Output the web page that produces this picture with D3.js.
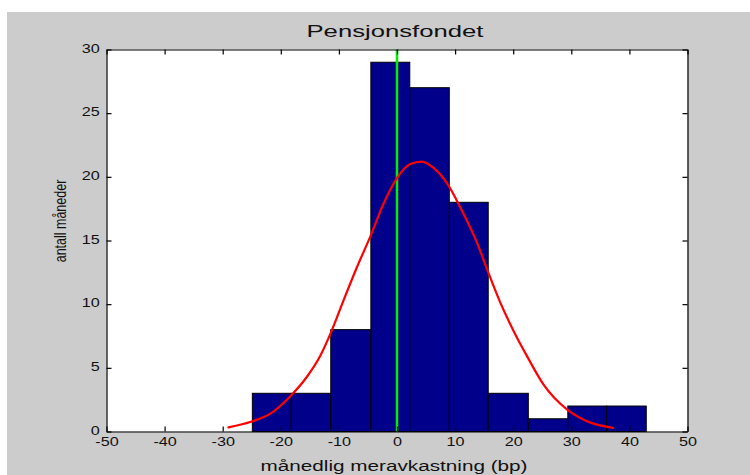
<!DOCTYPE html>
<html>
<head>
<meta charset="utf-8">
<script src="https://cdn.jsdelivr.net/npm/d3@7"></script>
<style>
  body { margin: 0; background: #fff; }
  text { font-family: "Liberation Sans", Arial, sans-serif; fill: #111; }
</style>
</head>
<body>
<svg id="viz" width="750" height="475"></svg>
<script>
// histogram bins (edges) and counts
var binEdges = [-24.9, -18.2, -11.4, -4.5, 2.2, 9.0, 15.7, 22.6, 29.4, 36.1, 42.9];
var counts = [3, 3, 8, 29, 27, 18, 3, 1, 2, 2];

// fitted curve, points
var curveX = [-29.0, -25.0, -21.8, -18.4, -15.5, -13.2, -11.2, -9.2, -6.9, -4.6, -2.3, 0.0, 2.3, 4.3,
              6.3, 8.6, 10.9, 13.8, 15.7, 17.8, 20.0, 22.4, 25.2, 29.2, 32.7, 37.2];
var curveY = [0.32, 0.78, 1.4, 2.75, 4.3, 5.95, 7.96, 10.3, 12.9, 15.3, 17.9, 19.9, 21.0, 21.2,
              20.7, 19.5, 17.6, 14.8, 12.5, 10.1, 7.96, 5.9, 3.7, 1.75, 0.8, 0.28];

var zeroLine = 0;
var xTicks = [-50, -40, -30, -20, -10, 0, 10, 20, 30, 40, 50];
var yTicks = [0, 5, 10, 15, 20, 25, 30];

var svg = d3.select("#viz");

svg.append("rect")
  .attr("x", 7).attr("y", 12)
  .attr("width", 743).attr("height", 463)
  .attr("fill", "#cccccc");

var plotLeft = 106.5, plotRight = 687.5, plotTop = 49.5, plotBottom = 431.5;

var x = d3.scaleLinear().domain([-50, 50]).range([plotLeft, plotRight]);
var y = d3.scaleLinear().domain([0, 30]).range([plotBottom, plotTop]);

svg.append("rect")
  .attr("x", plotLeft).attr("y", plotTop)
  .attr("width", plotRight - plotLeft).attr("height", plotBottom - plotTop)
  .attr("fill", "#fff");

var bins = counts.map(function(c, i) {
  return { x0: binEdges[i], x1: binEdges[i + 1], count: c };
});

svg.append("g")
  .selectAll("rect")
  .data(bins)
  .enter()
  .append("rect")
  .attr("x", function(d) { return x(d.x0); })
  .attr("y", function(d) { return y(d.count); })
  .attr("width", function(d) { return x(d.x1) - x(d.x0); })
  .attr("height", function(d) { return y(0) - y(d.count); })
  .attr("fill", "#00008b")
  .attr("stroke", "#000")
  .attr("stroke-width", 1);

svg.append("line")
  .attr("x1", x(zeroLine)).attr("x2", x(zeroLine))
  .attr("y1", plotTop).attr("y2", plotBottom)
  .attr("stroke", "#00ee00")
  .attr("stroke-width", 2.5);

var curve = curveX.map(function(v, i) { return [v, curveY[i]]; });
var line = d3.line()
  .x(function(d) { return x(d[0]); })
  .y(function(d) { return y(d[1]); })
  .curve(d3.curveMonotoneX);

svg.append("path")
  .datum(curve)
  .attr("d", line)
  .attr("fill", "none")
  .attr("stroke", "#ff0000")
  .attr("stroke-width", 2.2)
  .attr("stroke-linecap", "round");

// plain hyphen minus, like the original
var fmt = function(d) { return String(d); };

// axes, ticks pointing inward on all four sides
var xAxis = svg.append("g")
  .attr("transform", "translate(0," + plotBottom + ")")
  .call(d3.axisBottom(x).tickValues(xTicks).tickFormat(fmt).tickSize(-5).tickSizeOuter(0).tickPadding(5.5));
var yAxis = svg.append("g")
  .attr("transform", "translate(" + plotLeft + ",0)")
  .call(d3.axisLeft(y).tickValues(yTicks).tickFormat(fmt).tickSize(-5).tickSizeOuter(0).tickPadding(5));
svg.append("g")
  .attr("transform", "translate(0," + plotTop + ")")
  .call(d3.axisTop(x).tickValues(xTicks).tickSize(-5).tickSizeOuter(0).tickFormat(""));
svg.append("g")
  .attr("transform", "translate(" + plotRight + ",0)")
  .call(d3.axisRight(y).tickValues(yTicks).tickSize(-5).tickSizeOuter(0).tickFormat(""));

svg.selectAll(".domain").attr("stroke", "#000").attr("stroke-width", 1.2);
svg.selectAll(".tick line").attr("stroke", "#000").attr("stroke-width", 1.2);

xAxis.selectAll("text")
  .attr("font-size", 12)
  .attr("fill", "#111")
  .attr("transform", "scale(1.35,1)");
yAxis.selectAll("text")
  .attr("font-size", 12)
  .attr("fill", "#111")
  .attr("dy", "0.22em")
  .attr("transform", "scale(1.35,1)");

svg.append("text")
  .attr("x", (plotLeft + plotRight) / 2 - 2)
  .attr("y", 36.5)
  .attr("text-anchor", "middle")
  .attr("font-size", 17)
  .attr("textLength", 177)
  .attr("lengthAdjust", "spacingAndGlyphs")
  .text("Pensjonsfondet");

svg.append("text")
  .attr("x", 394)
  .attr("y", 470.5)
  .attr("text-anchor", "middle")
  .attr("font-size", 14)
  .attr("textLength", 267)
  .attr("lengthAdjust", "spacingAndGlyphs")
  .text("månedlig meravkastning (bp)");

svg.append("text")
  .attr("transform", "translate(66,221) scale(1.35,1) rotate(-90)")
  .attr("text-anchor", "middle")
  .attr("font-size", 12.5)
  .text("antall måneder");
</script>
</body>
</html>
